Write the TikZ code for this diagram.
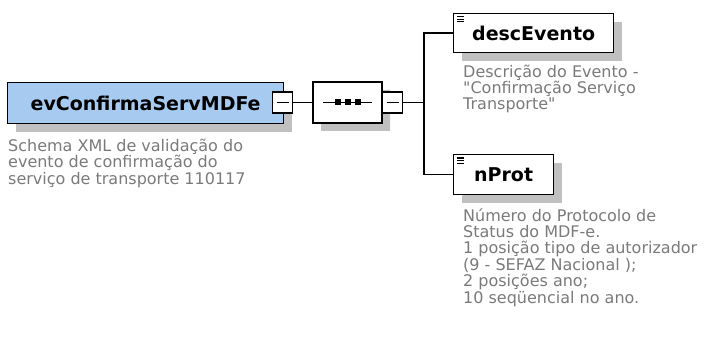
\documentclass[tikz,border=0pt]{standalone}
\usepackage{fontspec}
\setmainfont{DejaVu Sans}[Ligatures=TeXOff]
\usetikzlibrary{shapes.misc,shadows}
\definecolor{elblue}{RGB}{166,202,240}
\definecolor{shgray}{RGB}{192,192,192}
\definecolor{desctext}{RGB}{122,122,122}
\tikzset{
  x=1pt, y=-1pt,
  shad/.style={drop shadow={shadow xshift=8pt, shadow yshift=-8pt, opacity=1, fill=shgray}},
  elbox/.style={draw=black, line width=1.3pt, fill=white, inner sep=0pt, shad,
    font=\fontsize{19pt}{22pt}\selectfont\bfseries, anchor=north west},
  minusbox/.style={draw=black, line width=1.2pt, fill=white, inner sep=0pt,
    minimum width=20pt, minimum height=21pt,
    path picture={\draw[line width=1.2pt] ([xshift=4pt]path picture bounding box.west) -- ([xshift=-4pt]path picture bounding box.east);}},
  seqbox/.style={chamfered rectangle, chamfered rectangle xsep=8pt, chamfered rectangle ysep=8pt,
    draw=black, line width=1.2pt, fill=white, inner sep=0pt, minimum width=69pt, minimum height=41pt, shad},
  desctxt/.style={anchor=base west, align=left, inner sep=0pt, text=desctext,
    font=\fontsize{16pt}{16.4pt}\selectfont},
  conn/.style={draw=black, line width=1.3pt},
  icon/.style={line width=1pt}
}
\begin{document}
\begin{tikzpicture}
\useasboundingbox (0,0) rectangle (704,342);
% main element
\node[elbox, fill=elblue, minimum width=276pt, minimum height=41pt] (main) at (7,82) {evConfirmaServMDFe\hspace{11pt}};
\node[minusbox] (m1) at (282.5,102.5) {};
\node[desctxt] (maindesc) at (8,184) {Schema XML de validação do\\evento de confirmação do\\serviço de transporte 110117};
% sequence
\node[seqbox] (seq) at (347.5,102.5) {};
\draw[line width=1.2pt] ([xshift=-24.5pt]seq.center) -- ([xshift=24.5pt]seq.center);
\foreach \dx in {-9.5,0.5,10.5}
  \fill ([xshift=\dx pt]seq.center) +(-3,-3) rectangle +(3,3);
\node[minusbox] (m2) at (392.5,102.5) {};
% children
\node[elbox, minimum width=160pt, minimum height=39pt] (desc) at (453,13) {descEvento};
\node[elbox, minimum width=100pt, minimum height=40pt] (nprot) at (453,154) {nProt};
\foreach \n in {desc,nprot}{
  \foreach \dy in {4,6.5,9}
    \draw[icon] ([shift={(4,\dy)}]\n.north west) -- ([shift={(11,\dy)}]\n.north west);
}
\node[desctxt] (descdesc) at (463,110) {Descrição do Evento -\\"Confirmação Serviço\\Transporte"};
\node[desctxt] (nprotdesc) at (463,303) {Número do Protocolo de\\Status do MDF-e.\\1 posição tipo de autorizador\\(9 - SEFAZ Nacional );\\2 posições ano;\\10 seqüencial no ano.};
% connectors
\coordinate (bx) at (424,102.5);
\draw[conn] (m1.east) -- (seq.west);
\draw[conn] (seq.east) -- (m2.west);
\draw[conn] (m2.east) -- (bx);
\draw[conn] (desc.west) -| (bx) |- (nprot.west);
\end{tikzpicture}
\end{document}
